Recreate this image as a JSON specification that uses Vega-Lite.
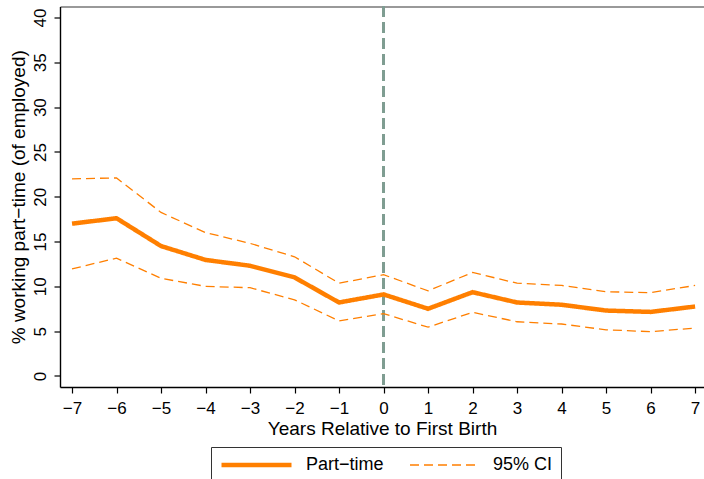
{
  "$schema": "https://vega.github.io/schema/vega-lite/v6.json",
  "width": 644,
  "height": 380.5,
  "autosize": {"type": "none"},
  "padding": {"left": 60, "top": 6.5, "right": 0, "bottom": 92},
  "background": "white",
  "config": {
    "font": "Liberation Sans",
    "view": {"stroke": null},
    "axis": {"grid": false, "labelFont": "Liberation Sans", "titleFont": "Liberation Sans", "labelFontSize": 17, "titleFontSize": 19, "labelColor": "black", "titleColor": "black", "titleFontWeight": "normal", "domainColor": "black", "tickColor": "black", "domainWidth": 1.4, "tickWidth": 1.2, "tickSize": 6}
  },
  "data": {"values": [
    {"t": -7, "val": 17.0, "band": "Part−time", "line": "main"},
    {"t": -6, "val": 17.6, "band": "Part−time", "line": "main"},
    {"t": -5, "val": 14.5, "band": "Part−time", "line": "main"},
    {"t": -4, "val": 12.95, "band": "Part−time", "line": "main"},
    {"t": -3, "val": 12.3, "band": "Part−time", "line": "main"},
    {"t": -2, "val": 11.0, "band": "Part−time", "line": "main"},
    {"t": -1, "val": 8.2, "band": "Part−time", "line": "main"},
    {"t": 0, "val": 9.1, "band": "Part−time", "line": "main"},
    {"t": 1, "val": 7.5, "band": "Part−time", "line": "main"},
    {"t": 2, "val": 9.35, "band": "Part−time", "line": "main"},
    {"t": 3, "val": 8.2, "band": "Part−time", "line": "main"},
    {"t": 4, "val": 7.95, "band": "Part−time", "line": "main"},
    {"t": 5, "val": 7.3, "band": "Part−time", "line": "main"},
    {"t": 6, "val": 7.15, "band": "Part−time", "line": "main"},
    {"t": 7, "val": 7.75, "band": "Part−time", "line": "main"},
    {"t": -7, "val": 22.0, "band": "95% CI", "line": "upper"},
    {"t": -6, "val": 22.1, "band": "95% CI", "line": "upper"},
    {"t": -5, "val": 18.25, "band": "95% CI", "line": "upper"},
    {"t": -4, "val": 16.0, "band": "95% CI", "line": "upper"},
    {"t": -3, "val": 14.8, "band": "95% CI", "line": "upper"},
    {"t": -2, "val": 13.3, "band": "95% CI", "line": "upper"},
    {"t": -1, "val": 10.35, "band": "95% CI", "line": "upper"},
    {"t": 0, "val": 11.3, "band": "95% CI", "line": "upper"},
    {"t": 1, "val": 9.5, "band": "95% CI", "line": "upper"},
    {"t": 2, "val": 11.55, "band": "95% CI", "line": "upper"},
    {"t": 3, "val": 10.35, "band": "95% CI", "line": "upper"},
    {"t": 4, "val": 10.1, "band": "95% CI", "line": "upper"},
    {"t": 5, "val": 9.4, "band": "95% CI", "line": "upper"},
    {"t": 6, "val": 9.3, "band": "95% CI", "line": "upper"},
    {"t": 7, "val": 10.1, "band": "95% CI", "line": "upper"},
    {"t": -7, "val": 11.95, "band": "95% CI", "line": "lower"},
    {"t": -6, "val": 13.15, "band": "95% CI", "line": "lower"},
    {"t": -5, "val": 10.9, "band": "95% CI", "line": "lower"},
    {"t": -4, "val": 10.0, "band": "95% CI", "line": "lower"},
    {"t": -3, "val": 9.85, "band": "95% CI", "line": "lower"},
    {"t": -2, "val": 8.5, "band": "95% CI", "line": "lower"},
    {"t": -1, "val": 6.15, "band": "95% CI", "line": "lower"},
    {"t": 0, "val": 6.95, "band": "95% CI", "line": "lower"},
    {"t": 1, "val": 5.45, "band": "95% CI", "line": "lower"},
    {"t": 2, "val": 7.1, "band": "95% CI", "line": "lower"},
    {"t": 3, "val": 6.05, "band": "95% CI", "line": "lower"},
    {"t": 4, "val": 5.8, "band": "95% CI", "line": "lower"},
    {"t": 5, "val": 5.15, "band": "95% CI", "line": "lower"},
    {"t": 6, "val": 4.95, "band": "95% CI", "line": "lower"},
    {"t": 7, "val": 5.35, "band": "95% CI", "line": "lower"}
  ]},
  "layer": [
    {
      "mark": {"type": "rule", "strokeDash": [10, 6], "strokeWidth": 1.8, "color": "#7f9d92"},
      "encoding": {
        "x": {"datum": 0, "type": "quantitative", "scale": {"domain": [-7.27, 7.2], "nice": false, "zero": false},
          "axis": {"orient": "top", "labels": false, "ticks": false, "title": null, "domainColor": "#777777", "domainWidth": 1.5}}
      }
    },
    {
      "mark": {"type": "line", "strokeCap": "butt"},
      "encoding": {
        "x": {"field": "t", "type": "quantitative", "scale": {"domain": [-7.27, 7.2], "nice": false, "zero": false},
          "axis": {"values": [-7,-6,-5,-4,-3,-2,-1,0,1,2,3,4,5,6,7], "title": "Years Relative to First Birth", "labelPadding": 7, "titlePadding": 3}},
        "y": {"field": "val", "type": "quantitative", "scale": {"domain": [-1.23, 41.23], "nice": false, "zero": false},
          "axis": {"values": [0,5,10,15,20,25,30,35,40], "labelAngle": -90, "labelAlign": "center", "labelBaseline": "alphabetic", "labelPadding": 9,
            "title": "% working part−time (of employed)", "titlePadding": 3}},
        "detail": {"field": "line"},
        "color": {"field": "band", "type": "nominal", "title": null, "scale": {"domain": ["Part−time", "95% CI"], "range": ["#ff7f00", "#ff7f00"]}},
        "strokeDash": {"field": "band", "type": "nominal", "title": null, "scale": {"domain": ["Part−time", "95% CI"], "range": [[1, 0], [9, 5]]}},
        "strokeWidth": {"field": "band", "type": "nominal", "title": null, "scale": {"domain": ["Part−time", "95% CI"], "range": [4.5, 1.3]},
          "legend": {"orient": "none", "legendX": 151, "legendY": 440.5, "direction": "horizontal", "symbolType": "stroke", "symbolSize": 4900, "clipHeight": 20, "labelFontSize": 18, "labelFont": "Liberation Sans", "labelColor": "black", "labelOffset": 12, "columnPadding": 25, "padding": 8, "strokeColor": "#333333", "fillColor": "white"}}
      }
    }
  ],
  "resolve": {"axis": {"x": "independent"}}
}
